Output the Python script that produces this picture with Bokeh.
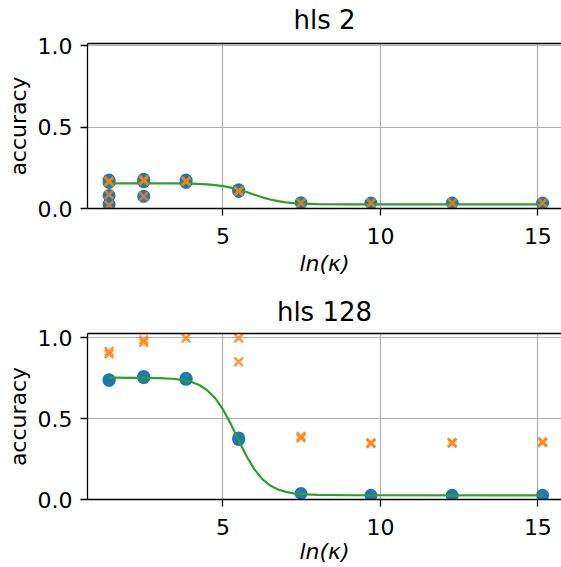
from bokeh.plotting import figure
from bokeh.models import LinearAxis, FixedTicker, Range1d, PrintfTickFormatter
from bokeh.layouts import column
from bokeh.embed import file_html
from bokeh.resources import INLINE

# ---- data ----
# hls 2
hls2_x = [1.386, 1.386, 1.386, 1.386, 2.485, 2.485, 2.485, 3.829, 3.829, 5.50, 5.50, 7.48, 9.70, 12.28, 15.15]
hls2_test = [0.175, 0.16, 0.08, 0.025, 0.18, 0.165, 0.075, 0.175, 0.16, 0.115, 0.105, 0.035, 0.034, 0.034, 0.034]
hls2_train = [0.17, 0.162, 0.085, 0.02, 0.178, 0.17, 0.075, 0.17, 0.165, 0.11, 0.105, 0.035, 0.034, 0.034, 0.034]
hls2_fit_x = [1.386, 3.0, 3.5, 4.0, 4.5, 4.75, 5.0, 5.25, 5.5, 5.75, 6.0, 6.25, 6.5, 6.75, 7.0, 7.25, 7.5, 8.0, 9.0, 15.15]
hls2_fit_y = [0.155, 0.1547, 0.1541, 0.1525, 0.1483, 0.1442, 0.1379, 0.1288, 0.1164, 0.1013, 0.0847, 0.0688,
              0.0553, 0.0451, 0.0378, 0.0330, 0.0299, 0.0268, 0.0253, 0.025]

# hls 128
hls128_test_x = [1.386, 1.386, 2.485, 2.485, 3.829, 3.829, 5.50, 5.50, 7.48, 9.70, 12.28, 15.15]
hls128_test = [0.74, 0.735, 0.76, 0.752, 0.748, 0.742, 0.38, 0.37, 0.037, 0.026, 0.026, 0.026]
hls128_train_x = [1.386, 1.386, 2.485, 2.485, 3.829, 5.50, 5.50, 7.48, 7.48, 9.70, 9.70, 12.28, 12.28, 15.15, 15.15]
hls128_train = [0.915, 0.90, 0.985, 0.97, 0.997, 0.997, 0.85, 0.39, 0.38, 0.35, 0.346, 0.352, 0.348, 0.356, 0.352]
hls128_fit_x = [1.386, 3.0, 3.5, 4.0, 4.25, 4.5, 4.75, 5.0, 5.25, 5.5, 5.75, 6.0, 6.25, 6.5, 6.75, 7.0, 7.25, 7.5, 8.0, 9.0, 15.15]
hls128_fit_y = [0.753, 0.750, 0.744, 0.726, 0.707, 0.675, 0.627, 0.557, 0.466, 0.365, 0.267, 0.186, 0.126,
                0.0865, 0.0618, 0.0468, 0.0379, 0.0328, 0.0282, 0.0262, 0.026]

x_ticks = [5, 10, 15]
y_ticks = [0.0, 0.5, 1.0]

BLUE = "#1f77b4"
ORANGE = "#ff7f0e"
GREEN = "#2ca02c"
FONT = "DejaVu Sans"


def make_fig(title, height, top, bottom, ytop, title_standoff, xlabel_standoff,
             xs_test, ys_test, xs_train, ys_train, fx, fy):
    p = figure(width=561, height=height, output_backend="svg", toolbar_location=None,
               x_range=Range1d(0.70, 15.75), y_range=Range1d(0.0, ytop),
               min_border_left=87, min_border_right=0, min_border_top=top, min_border_bottom=bottom)
    xb = p.below[0]
    yl = p.left[0]
    p.outline_line_color = None
    p.background_fill_color = "white"
    p.border_fill_color = "white"

    xb.ticker = FixedTicker(ticks=x_ticks)
    yl.ticker = FixedTicker(ticks=y_ticks)
    yl.formatter = PrintfTickFormatter(format="%.1f")
    for ax in (xb, yl):
        ax.major_label_text_font = FONT
        ax.major_label_text_font_size = "22px"
        ax.major_label_text_color = "black"
        ax.axis_label_text_font = FONT
        ax.axis_label_text_font_size = "22px"
        ax.axis_label_text_color = "black"
        ax.axis_line_color = "black"
        ax.axis_line_width = 1.3
        ax.major_tick_line_color = "black"
        ax.major_tick_line_width = 1.3
        ax.major_tick_out = 7
        ax.major_tick_in = 0
        ax.minor_tick_line_color = None
    xb.major_label_standoff = 12
    yl.major_label_standoff = 8
    xb.axis_label = "ln(\u03ba)"
    xb.axis_label_text_font_style = "italic"
    xb.axis_label_standoff = xlabel_standoff
    yl.axis_label = "accuracy"
    yl.axis_label_text_font_style = "normal"
    yl.axis_label_standoff = 4

    # top spine (an axis with no ticks or labels) carrying the subplot title
    spine = LinearAxis(ticker=FixedTicker(ticks=[]), major_tick_line_color=None, minor_tick_line_color=None,
                       major_label_text_font_size="0px", major_tick_out=0, major_tick_in=0,
                       major_label_standoff=0, axis_line_color="black", axis_line_width=1.3,
                       axis_label=title, axis_label_text_font=FONT, axis_label_text_font_size="26px",
                       axis_label_text_font_style="normal", axis_label_text_color="black",
                       axis_label_standoff=title_standoff)
    p.add_layout(spine, "above")

    p.xgrid.ticker = FixedTicker(ticks=x_ticks)
    p.ygrid.ticker = FixedTicker(ticks=y_ticks)
    p.grid.grid_line_color = "#b0b0b0"
    p.grid.grid_line_width = 1.2

    p.scatter(xs_test, ys_test, marker="circle", size=13, fill_color=BLUE, line_color=BLUE, line_width=0)
    p.line(fx, fy, line_color=GREEN, line_width=2.2)
    p.scatter(xs_train, ys_train, marker="x", size=12, line_color=ORANGE, line_width=2.6, line_alpha=0.8)
    return p


p1 = make_fig("hls 2", 282, 43, 74, 1.015, 9, 4, hls2_x, hls2_test, hls2_x, hls2_train, hls2_fit_x, hls2_fit_y)
p2 = make_fig("hls 128", 285, 51, 68, 1.025, 7, 1, hls128_test_x, hls128_test, hls128_train_x, hls128_train,
              hls128_fit_x, hls128_fit_y)

layout = column(p1, p2, spacing=0)
open("out.html", "w").write(file_html(layout, INLINE))
